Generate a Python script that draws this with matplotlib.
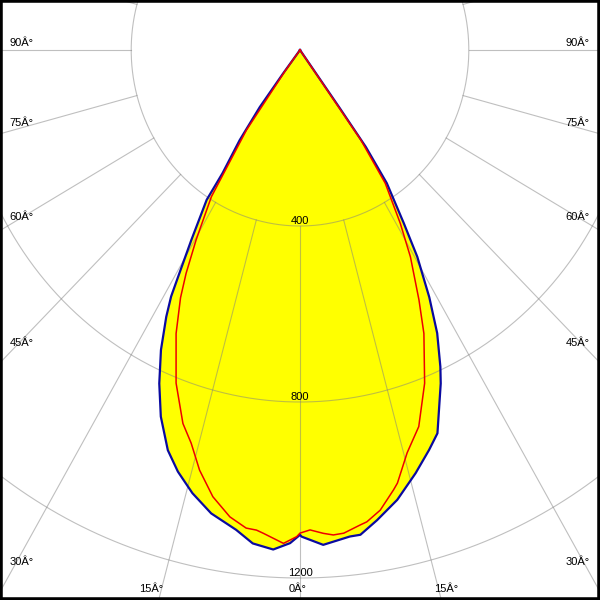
import numpy as np
import matplotlib
matplotlib.use('Agg')
from matplotlib import pyplot as plt

# gamma angle (deg from nadir) / intensity pairs, per half plane
blue_left_ang = [0, 1.2, 3.2, 5.7, 7.9, 11.3, 14.2, 16.8, 19.0, 21.6, 23.75, 25.8, 27.6, 28.6,
                 29.4, 30.8, 33.0, 33.25, 34.9, 36.3, 36.9, 37.0]
blue_left_val = [1102, 1121, 1137, 1127, 1101, 1074, 1039, 1001, 962, 896, 828, 757, 684, 638,
                 582, 503, 406, 335, 250, 161, 66, 0]
blue_right_ang = [0, 0.2, 2.8, 6.1, 7.4, 9.7, 12.7, 15.9, 18.6, 20.5, 23.75, 24.8, 26.8, 28.6,
                  30.6, 32.0, 34.2, 35.3, 35.5, 35.5]
blue_right_val = [1102, 1106, 1126, 1112, 1111, 1084, 1048, 1000, 959, 930, 828, 793, 721, 640,
                  546, 464, 366, 270, 160, 0]
red_left_ang = [0, 0.4, 2.0, 4.5, 5.4, 6.7, 8.9, 11.5, 14.0, 16.1, 18.1, 21.2, 24.5, 26.7,
                28.0, 29.7, 32.2, 34.9, 36.5, 37.0]
red_left_val = [1098, 1106, 1122, 1102, 1096, 1094, 1074, 1036, 984, 930, 893, 812, 708, 630,
                575, 497, 394, 222, 60, 0]
red_right_ang = [0, 1.25, 2.9, 4.1, 5.4, 7.5, 8.4, 10.3, 12.5, 13.2, 15.5, 18.2, 21.3, 24.5,
                 26.4, 29.1, 31.1, 33.7, 35.2, 35.5]
red_right_val = [1098, 1091, 1100, 1105, 1103, 1089, 1084, 1063, 1024, 1011, 950, 901, 813, 708,
                 634, 538, 460, 364, 250, 0]

rings = [400, 800, 1200]
ring_labels = ['400', '800', '1200']
spoke_angles = list(range(0, 360, 15))

# angle labels: text, x pixel, baseline pixel, alignment
angle_labels = [
    ('90Â°', 9.5, 46, 'left'), ('75Â°', 9.5, 126, 'left'), ('60Â°', 9.5, 219.5, 'left'),
    ('45Â°', 9.5, 346.5, 'left'), ('30Â°', 9.5, 565, 'left'),
    ('90Â°', 589.5, 46, 'right'), ('75Â°', 589.5, 126, 'right'), ('60Â°', 589.5, 219.5, 'right'),
    ('45Â°', 589.5, 346.5, 'right'), ('30Â°', 589.5, 565, 'right'),
    ('15Â°', 151.5, 592.5, 'center'), ('0Â°', 297.5, 592.5, 'center'), ('15Â°', 446.5, 592.5, 'center'),
]

plt.rcParams['font.family'] = ['Liberation Sans', 'DejaVu Sans']


def to_xy(ang, vals, side):
    t = np.radians(ang)
    v = np.asarray(vals, dtype=float)
    return side * v * np.sin(t), -v * np.cos(t)


def outline(la, lv, ra, rv):
    xl, yl = to_xy(la, lv, -1)
    xr, yr = to_xy(ra, rv, 1)
    return np.concatenate([xl[::-1], xr[1:]]), np.concatenate([yl[::-1], yr[1:]])


fig = plt.figure(figsize=(6, 6), dpi=100)
ax = fig.add_axes([0, 0, 1, 1])

# pixel scale of the original is slightly different in x and y
sx, sy = 0.422, 0.44
ax.set_xlim(-300 / sx, 300 / sx)
ax.set_ylim(-550 / sy, 50 / sy)
ax.set_aspect('auto')
ax.set_xticks([])
ax.set_yticks([])
for s in ax.spines.values():
    s.set_color('black')
    s.set_linewidth(4)

bx, by = outline(blue_left_ang, blue_left_val, blue_right_ang, blue_right_val)
rx, ry = outline(red_left_ang, red_left_val, red_right_ang, red_right_val)

ax.fill(bx, by, color='#FFFF00', lw=0, zorder=1)

# grid
t = np.linspace(0, 2 * np.pi, 721)
for r in rings:
    ax.plot(r * np.sin(t), r * np.cos(t), color='#808080', alpha=0.5, lw=0.8, zorder=2)
for a in spoke_angles:
    ra = np.radians(a)
    ax.plot([400 * np.sin(ra), 2000 * np.sin(ra)], [-400 * np.cos(ra), -2000 * np.cos(ra)],
            color='#808080', alpha=0.5, lw=0.8, zorder=2)

ax.plot(bx, by, color='#0A0AA0', lw=1.6, zorder=3, solid_joinstyle='round')
ax.plot(rx, ry, color='#EE0000', lw=1.1, zorder=4, solid_joinstyle='round')

for r, lab in zip(rings, ring_labels):
    ax.annotate(lab, xy=(0, -r), xytext=(0, 1.5), textcoords='offset points',
                ha='center', va='baseline', fontsize=8, color='black', zorder=5)

for txt, xp, yp, ha in angle_labels:
    fig.text(xp / 600, 1 - yp / 600, txt, ha=ha, va='baseline', fontsize=8, color='black')

fig.savefig('out.png', dpi=100)
